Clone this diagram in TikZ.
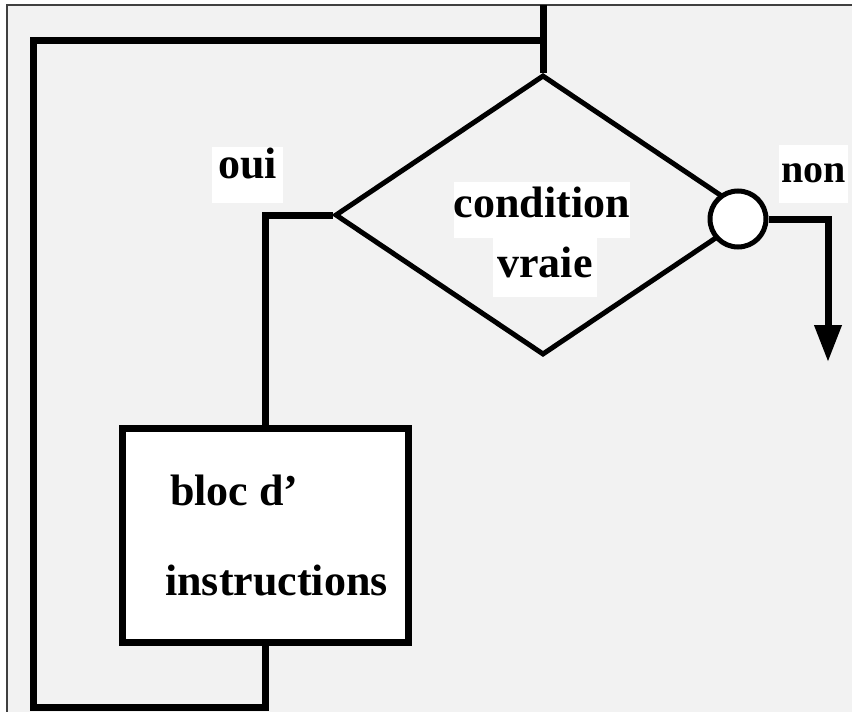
\documentclass[tikz,border=0pt]{standalone}
\usepackage{fontspec}
\setmainfont{Liberation Serif}
\usetikzlibrary{positioning,shapes.geometric,arrows.meta}
\definecolor{fond}{HTML}{F2F2F2}
\tikzset{
  ligne/.style={line width=7pt},
  cadre/.style={line width=2.5pt,draw=black!75},
  losange/.style={shape=diamond,draw,line width=5pt,minimum width=416pt,minimum height=280pt,inner sep=0pt},
  cercle/.style={shape=circle,draw,fill=white,line width=5pt,minimum size=56pt,inner sep=0pt},
  bloc/.style={shape=rectangle,draw,fill=white,line width=7pt,minimum width=286pt,minimum height=214pt},
  texte/.style={font=\fontsize{44}{48}\selectfont\bfseries,inner ysep=0pt,inner xsep=4pt},
  etiq/.style={texte,fill=white}
}
\begin{document}
\begin{tikzpicture}[x=1pt,y=-1pt]
	\useasboundingbox (0,0) rectangle (852,712);
	\fill[fond] (7,5) rectangle (852,712);
	\draw[cadre] (7,712) -- (7,5) -- (852,5);

	\node(cond) [losange] at (543,215) {};
	\node(rond) [cercle] at (738,219) {};
	\node(instr) [bloc] at (265,535) {};

	% textes
	\node(cond1) [etiq,anchor=base,text height=35pt,text depth=21pt,inner xsep=0pt] at (542,217) {condition};
	\node(cond2) [etiq,anchor=base,text height=39pt,text depth=20pt] at (545,277) {vraie};
	\node(oui) [etiq,anchor=base west,text height=31pt,text depth=25pt,inner xsep=6pt] at (212,178) {oui};
	\node(non) [etiq,anchor=base west,text height=37pt,text depth=21pt,inner xsep=2pt,font=\fontsize{40}{44}\selectfont\bfseries] at (779,182) {non};
	\node(instr1) [texte,anchor=base west,inner xsep=0pt] at (170,505) {bloc d'};
	\node(instr2) [texte,anchor=base west,inner xsep=0pt] at (165,595) {instructions};

	\coordinate (entree) at (543,5);
	\coordinate (retour) at (543,40);
	\coordinate (bas) at (33,707);
	\coordinate (sortie) at (828,362);

	\draw[ligne] (entree) -- (cond.north);
	\draw[ligne] (cond.west) -| (instr.north);
	\draw[ligne] (instr.south) |- (bas) |- (retour);
	\draw[ligne,-{Triangle[length=37pt,width=26pt]}] (rond.east) -| (sortie);
\end{tikzpicture}
\end{document}
